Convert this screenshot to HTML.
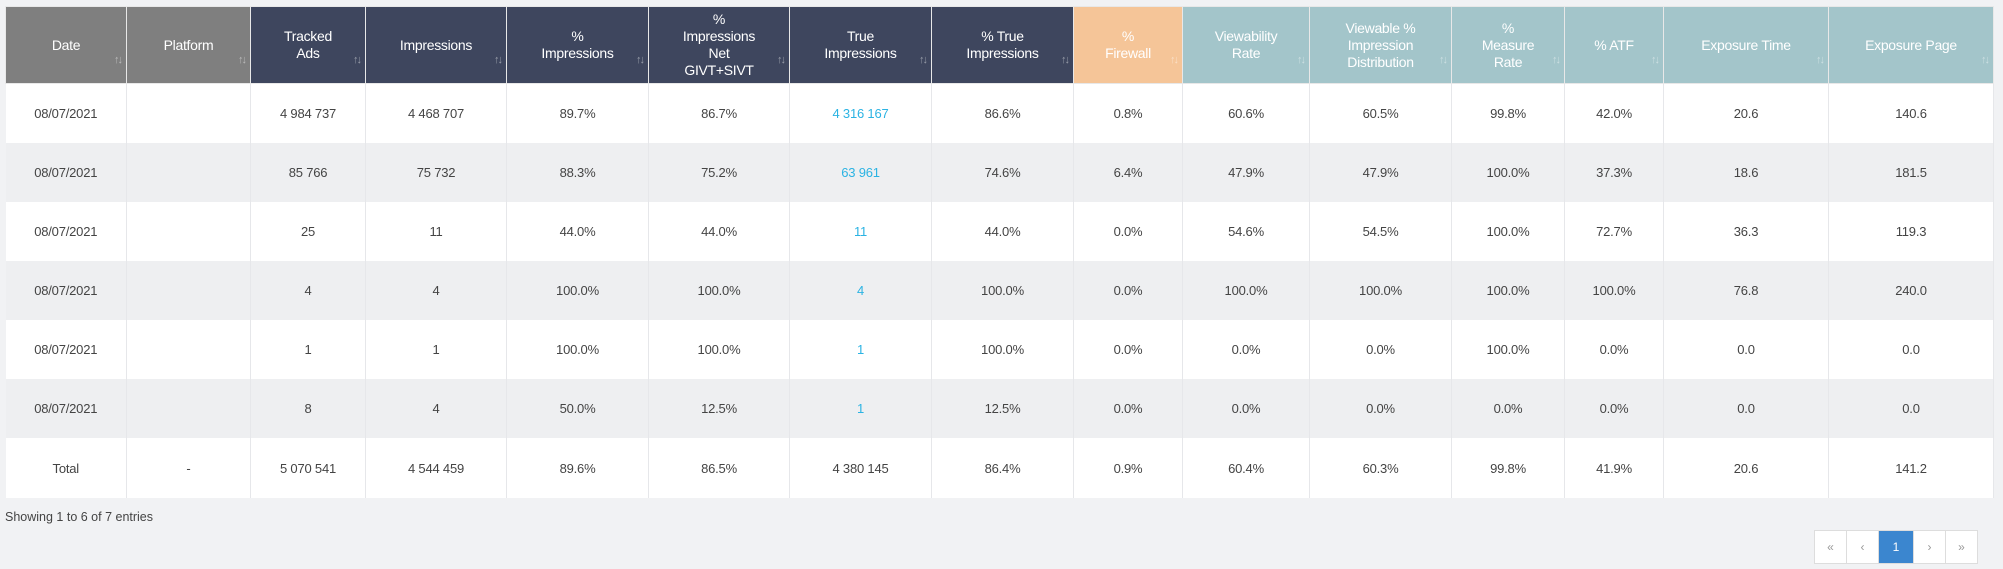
<!DOCTYPE html>
<html><head><meta charset="utf-8"><style>
body{margin:0;width:2003px;height:569px;background:#f1f2f4;font-family:"Liberation Sans",Arial,sans-serif;overflow:hidden;position:relative}
table{position:absolute;left:5px;top:6px;border-collapse:collapse;table-layout:fixed;width:1988px}
th{color:#fff;font-weight:normal;font-size:14px;line-height:17px;height:76px;padding:0 4px;border:1px solid #e8e8e8;position:relative;text-align:center;vertical-align:middle;letter-spacing:-0.3px}
th .s{position:absolute;right:5px;bottom:14px;font-size:11px;color:rgba(255,255,255,.45);letter-spacing:-2px}
td{font-size:13px;color:#444;text-align:center;height:59px;padding:0;border-right:1px solid #e6e7ea;letter-spacing:-0.2px}
tr.w td{background:#fff}
tr.g td{background:#eeeff1}
.g1{background:#7f7f7f}.n{background:#3e465e}.o{background:#f5c598}.t{background:#a3c5ca}
.b{color:#2bb3e3}
.info{position:absolute;left:5px;top:510px;font-size:12.5px;color:#444}
.pg{position:absolute;left:1814px;top:530px;height:32px;display:flex;border:1px solid #ddd;background:#fff}
.pg span{width:31px;line-height:32px;text-align:center;font-size:12px;color:#999;border-right:1px solid #ddd}
.pg span.a{background:#3b86cf;color:#fff;width:34px}
</style></head><body>
<table>
<colgroup><col style="width:121px"><col style="width:124px"><col style="width:115px"><col style="width:141px"><col style="width:142px"><col style="width:141px"><col style="width:142px"><col style="width:142px"><col style="width:109px"><col style="width:127px"><col style="width:142px"><col style="width:113px"><col style="width:99px"><col style="width:165px"><col style="width:165px"></colgroup>
<tr>
<th class="g1">Date<span class="s">↑↓</span></th>
<th class="g1">Platform<span class="s">↑↓</span></th>
<th class="n">Tracked<br>Ads<span class="s">↑↓</span></th>
<th class="n">Impressions<span class="s">↑↓</span></th>
<th class="n">%<br>Impressions<span class="s">↑↓</span></th>
<th class="n">%<br>Impressions<br>Net<br>GIVT+SIVT<span class="s">↑↓</span></th>
<th class="n">True<br>Impressions<span class="s">↑↓</span></th>
<th class="n">% True<br>Impressions<span class="s">↑↓</span></th>
<th class="o">%<br>Firewall<span class="s">↑↓</span></th>
<th class="t">Viewability<br>Rate<span class="s">↑↓</span></th>
<th class="t">Viewable %<br>Impression<br>Distribution<span class="s">↑↓</span></th>
<th class="t">%<br>Measure<br>Rate<span class="s">↑↓</span></th>
<th class="t">% ATF<span class="s">↑↓</span></th>
<th class="t">Exposure Time<span class="s">↑↓</span></th>
<th class="t">Exposure Page<span class="s">↑↓</span></th>
</tr>
<tr class="w"><td>08/07/2021</td><td></td><td>4 984 737</td><td>4 468 707</td><td>89.7%</td><td>86.7%</td><td class="b">4 316 167</td><td>86.6%</td><td>0.8%</td><td>60.6%</td><td>60.5%</td><td>99.8%</td><td>42.0%</td><td>20.6</td><td>140.6</td></tr>
<tr class="g"><td>08/07/2021</td><td></td><td>85 766</td><td>75 732</td><td>88.3%</td><td>75.2%</td><td class="b">63 961</td><td>74.6%</td><td>6.4%</td><td>47.9%</td><td>47.9%</td><td>100.0%</td><td>37.3%</td><td>18.6</td><td>181.5</td></tr>
<tr class="w"><td>08/07/2021</td><td></td><td>25</td><td>11</td><td>44.0%</td><td>44.0%</td><td class="b">11</td><td>44.0%</td><td>0.0%</td><td>54.6%</td><td>54.5%</td><td>100.0%</td><td>72.7%</td><td>36.3</td><td>119.3</td></tr>
<tr class="g"><td>08/07/2021</td><td></td><td>4</td><td>4</td><td>100.0%</td><td>100.0%</td><td class="b">4</td><td>100.0%</td><td>0.0%</td><td>100.0%</td><td>100.0%</td><td>100.0%</td><td>100.0%</td><td>76.8</td><td>240.0</td></tr>
<tr class="w"><td>08/07/2021</td><td></td><td>1</td><td>1</td><td>100.0%</td><td>100.0%</td><td class="b">1</td><td>100.0%</td><td>0.0%</td><td>0.0%</td><td>0.0%</td><td>100.0%</td><td>0.0%</td><td>0.0</td><td>0.0</td></tr>
<tr class="g"><td>08/07/2021</td><td></td><td>8</td><td>4</td><td>50.0%</td><td>12.5%</td><td class="b">1</td><td>12.5%</td><td>0.0%</td><td>0.0%</td><td>0.0%</td><td>0.0%</td><td>0.0%</td><td>0.0</td><td>0.0</td></tr>
<tr class="w"><td style="height:60px">Total</td><td>-</td><td>5 070 541</td><td>4 544 459</td><td>89.6%</td><td>86.5%</td><td>4 380 145</td><td>86.4%</td><td>0.9%</td><td>60.4%</td><td>60.3%</td><td>99.8%</td><td>41.9%</td><td>20.6</td><td>141.2</td></tr>
</table>
<div class="info">Showing 1 to 6 of 7 entries</div>
<div class="pg"><span>«</span><span>‹</span><span class="a">1</span><span>›</span><span style="border:0">»</span></div>
</body></html>
